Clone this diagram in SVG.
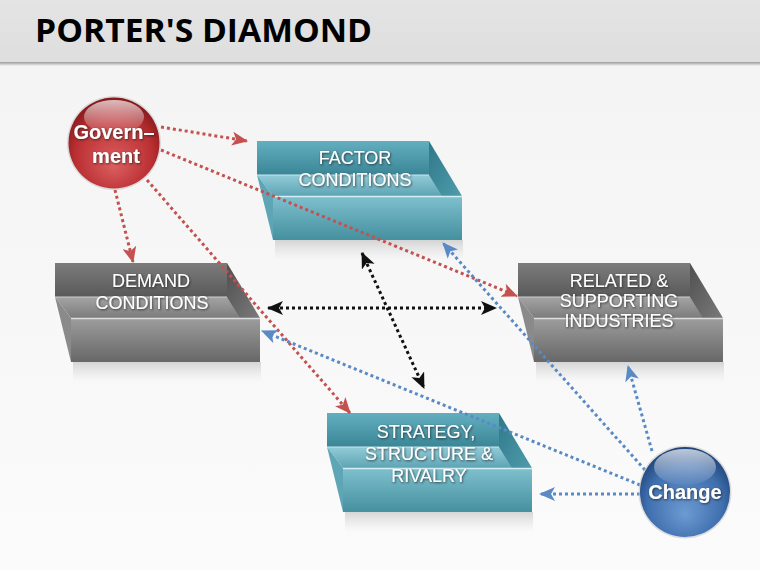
<svg xmlns="http://www.w3.org/2000/svg" xmlns:xlink="http://www.w3.org/1999/xlink" width="760" height="570" viewBox="0 0 760 570">
<style>
.lbl{font-family:"Liberation Sans",Arial,sans-serif;font-size:18px;fill:#ffffff;text-anchor:middle;filter:url(#tsh)}
.ctx{font-family:"Liberation Sans",Arial,sans-serif;font-weight:bold;fill:#ffffff;text-anchor:middle;filter:url(#tsh)}
.red{stroke:#c4514f;stroke-width:3;stroke-dasharray:3 3;fill:none;marker-end:url(#arR)}
.blue{stroke:#5a8ac6;stroke-width:3;stroke-dasharray:3 3;fill:none;marker-end:url(#arB)}
.blk{stroke:#111;stroke-width:3;stroke-dasharray:3 3;fill:none;marker-end:url(#arK);marker-start:url(#arK)}
</style>
<defs>
<filter id="tsh" x="-20%" y="-30%" width="140%" height="160%"><feDropShadow dx="0.8" dy="1" stdDeviation="0.8" flood-color="#202020" flood-opacity="0.8"/></filter>
<linearGradient id="bg" x1="0" y1="0" x2="0" y2="1"><stop offset="0" stop-color="#f3f3f3"/><stop offset="1" stop-color="#fbfbfb"/></linearGradient>
<linearGradient id="ttl" x1="0" y1="0" x2="0" y2="1"><stop offset="0" stop-color="#e4e4e4"/><stop offset="1" stop-color="#dedede"/></linearGradient>
<linearGradient id="tsd" x1="0" y1="0" x2="0" y2="1"><stop offset="0" stop-color="#9a9a9a"/><stop offset="1" stop-color="#9a9a9a" stop-opacity="0"/></linearGradient>
<linearGradient id="tBack" x1="0" y1="0" x2="0" y2="1"><stop offset="0" stop-color="#64afbf"/><stop offset="1" stop-color="#3a8596"/></linearGradient>
<linearGradient id="tFloor" x1="0" y1="0" x2="0" y2="1"><stop offset="0" stop-color="#92cbd7"/><stop offset="1" stop-color="#5ea4b4"/></linearGradient>
<linearGradient id="tFront" x1="0" y1="0" x2="0" y2="1"><stop offset="0" stop-color="#7fc0ce"/><stop offset="1" stop-color="#45909f"/></linearGradient>
<linearGradient id="tSide" x1="0" y1="0" x2="1" y2="1"><stop offset="0" stop-color="#2f7888"/><stop offset="1" stop-color="#4f9cad"/></linearGradient>
<linearGradient id="gBack" x1="0" y1="0" x2="0" y2="1"><stop offset="0" stop-color="#7c7c7c"/><stop offset="1" stop-color="#595959"/></linearGradient>
<linearGradient id="gFloor" x1="0" y1="0" x2="0" y2="1"><stop offset="0" stop-color="#a4a4a4"/><stop offset="1" stop-color="#7c7c7c"/></linearGradient>
<linearGradient id="gFront" x1="0" y1="0" x2="0" y2="1"><stop offset="0" stop-color="#9d9d9d"/><stop offset="1" stop-color="#676767"/></linearGradient>
<linearGradient id="gSide" x1="0" y1="0" x2="1" y2="1"><stop offset="0" stop-color="#505050"/><stop offset="1" stop-color="#7a7a7a"/></linearGradient>
<linearGradient id="refl" x1="0" y1="0" x2="0" y2="1"><stop offset="0" stop-color="#b8b8b8" stop-opacity="0.55"/><stop offset="1" stop-color="#d0d0d0" stop-opacity="0"/></linearGradient>
<radialGradient id="redG" cx="0.5" cy="0.6" r="0.6" fx="0.5" fy="0.75"><stop offset="0" stop-color="#dc5f60"/><stop offset="0.7" stop-color="#bb3033"/><stop offset="1" stop-color="#84181a"/></radialGradient>
<radialGradient id="bluG" cx="0.5" cy="0.6" r="0.6" fx="0.5" fy="0.75"><stop offset="0" stop-color="#6c9ad2"/><stop offset="0.7" stop-color="#3f6fae"/><stop offset="1" stop-color="#1f4379"/></radialGradient>
<linearGradient id="gloss" x1="0" y1="0" x2="0" y2="1"><stop offset="0" stop-color="#ffffff" stop-opacity="0.7"/><stop offset="1" stop-color="#ffffff" stop-opacity="0.05"/></linearGradient>
<marker id="arR" viewBox="0 0 16 14" refX="15" refY="7" markerWidth="16" markerHeight="14" markerUnits="userSpaceOnUse" orient="auto"><path d="M0,0 L16,7 L0,14 L4,7 Z" fill="#c4514f"/></marker>
<marker id="arB" viewBox="0 0 16 14" refX="15" refY="7" markerWidth="16" markerHeight="14" markerUnits="userSpaceOnUse" orient="auto"><path d="M0,0 L16,7 L0,14 L4,7 Z" fill="#5a8ac6"/></marker>
<marker id="arK" viewBox="0 0 16 14" refX="15" refY="7" markerWidth="16" markerHeight="14" markerUnits="userSpaceOnUse" orient="auto-start-reverse"><path d="M0,0 L16,7 L0,14 L4,7 Z" fill="#111"/></marker>
<g id="boxT">
<rect x="18" y="99" width="188" height="20" fill="url(#refl)"/>
<rect x="0" y="0" width="172" height="34" fill="url(#tBack)"/>
<polygon points="172,0 205,55 172,55" fill="url(#tSide)"/>
<polygon points="0,34 172,34 185,55 16,55" fill="url(#tFloor)"/>
<polygon points="0,34 16,55 16,99" fill="#5ea6b6"/>
<rect x="16" y="55" width="189" height="44" fill="url(#tFront)"/>
<line x1="0" y1="34" x2="172" y2="34" stroke="#c8eaf0" stroke-width="1"/>
<line x1="16" y1="55.5" x2="205" y2="55.5" stroke="#d4eff4" stroke-width="1.5"/>
</g>
<g id="boxG">
<rect x="18" y="99" width="188" height="20" fill="url(#refl)"/>
<rect x="0" y="0" width="172" height="34" fill="url(#gBack)"/>
<polygon points="172,0 205,55 172,55" fill="url(#gSide)"/>
<polygon points="0,34 172,34 185,55 16,55" fill="url(#gFloor)"/>
<polygon points="0,34 16,55 16,99" fill="#8a8a8a"/>
<rect x="16" y="55" width="189" height="44" fill="url(#gFront)"/>
<line x1="0" y1="34" x2="172" y2="34" stroke="#d0d0d0" stroke-width="1"/>
<line x1="16" y1="55.5" x2="205" y2="55.5" stroke="#dedede" stroke-width="1.5"/>
</g>
</defs>
<rect width="760" height="570" fill="url(#bg)"/>
<g id="title">
<rect x="0" y="0" width="760" height="62" fill="url(#ttl)"/>
<rect x="0" y="62" width="760" height="4" fill="url(#tsd)"/>
<text x="35" y="42" font-family="'Open Sans','Liberation Sans',sans-serif" font-weight="bold" font-size="32" fill="#000" textLength="337" lengthAdjust="spacingAndGlyphs">PORTER'S DIAMOND</text>
</g>
<g id="factor" transform="translate(257,141)">
<use xlink:href="#boxT" href="#boxT"/>
<text class="lbl" x="98" y="23">FACTOR</text>
<text class="lbl" x="98" y="45">CONDITIONS</text>
</g>
<g id="demand" transform="translate(55,263)">
<use xlink:href="#boxG" href="#boxG"/>
<text class="lbl" x="96" y="24">DEMAND</text>
<text class="lbl" x="97" y="46">CONDITIONS</text>
</g>
<g id="related" transform="translate(518,263)">
<use xlink:href="#boxG" href="#boxG"/>
<text class="lbl" x="101" y="24">RELATED &amp;</text>
<text class="lbl" x="101" y="44">SUPPORTING</text>
<text class="lbl" x="101" y="64">INDUSTRIES</text>
</g>
<g id="strategy" transform="translate(327,413)">
<use xlink:href="#boxT" href="#boxT"/>
<text class="lbl" x="99" y="25">STRATEGY,</text>
<text class="lbl" x="102" y="47">STRUCTURE &amp;</text>
<text class="lbl" x="102" y="69">RIVALRY</text>
</g>
<g id="connectors">
<line class="red" x1="161" y1="127" x2="247" y2="141"/>
<line class="red" x1="161" y1="150" x2="517" y2="296"/>
<line class="red" x1="115" y1="190" x2="133" y2="262"/>
<line class="red" x1="147" y1="180" x2="350" y2="413"/>
<line class="blue" x1="645" y1="470" x2="443" y2="243"/>
<line class="blue" x1="652" y1="451" x2="628" y2="366"/>
<line class="blue" x1="640" y1="494" x2="540" y2="494"/>
<line class="blue" x1="640" y1="485" x2="262" y2="331"/>
<line class="blk" x1="268" y1="308" x2="496" y2="308"/>
<line class="blk" x1="362" y1="253" x2="424" y2="388"/>
</g>
<g id="government">
<circle cx="114" cy="143" r="47" fill="#c8c8c8" opacity="0.6"/>
<circle cx="114" cy="143" r="45.5" fill="url(#redG)"/>
<ellipse cx="114" cy="117" rx="30" ry="17" fill="url(#gloss)"/>
<text class="ctx" x="114" y="139" font-size="20">Govern–</text>
<text class="ctx" x="116" y="163" font-size="20">ment</text>
</g>
<g id="change">
<circle cx="685" cy="492" r="46.5" fill="#c8c8c8" opacity="0.6"/>
<circle cx="685" cy="492" r="45" fill="url(#bluG)"/>
<ellipse cx="685" cy="467" rx="31" ry="18" fill="url(#gloss)"/>
<text class="ctx" x="685" y="499" font-size="20">Change</text>
</g>
</svg>
